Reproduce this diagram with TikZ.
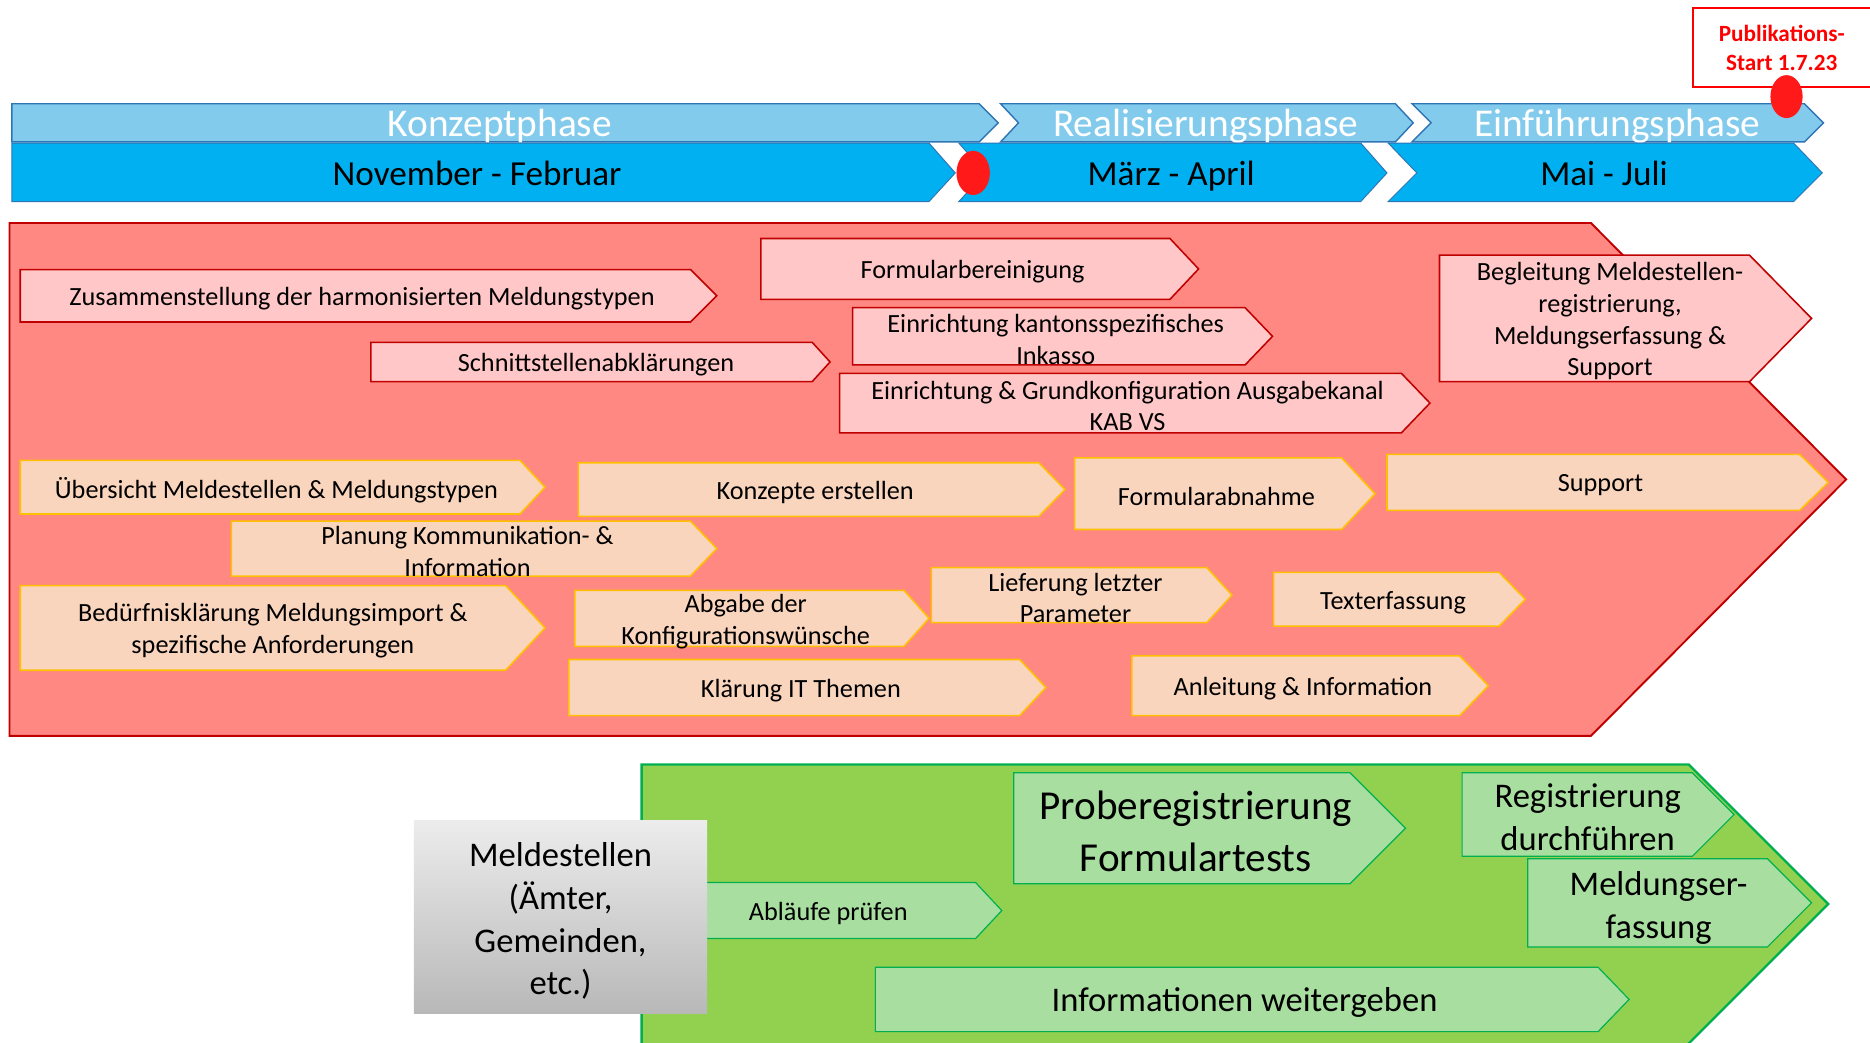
\documentclass[tikz,border=0pt]{standalone}
\usepackage{fontspec}
\setmainfont{Carlito}
\usetikzlibrary{shapes.geometric}
\definecolor{phaseblue}{RGB}{131,203,236}
\definecolor{monthblue}{RGB}{0,176,240}
\definecolor{barline}{RGB}{46,117,182}
\definecolor{redbg}{RGB}{255,136,130}
\definecolor{redline}{RGB}{192,0,0}
\definecolor{pinkbox}{RGB}{255,199,199}
\definecolor{orabox}{RGB}{250,213,190}
\definecolor{goldline}{RGB}{255,192,0}
\definecolor{greenbg}{RGB}{146,208,80}
\definecolor{greenline}{RGB}{0,176,80}
\definecolor{grbox}{RGB}{168,222,160}
\definecolor{dotred}{RGB}{255,25,25}
\definecolor{pubred}{RGB}{255,0,0}
\definecolor{greytop}{RGB}{236,236,236}
\definecolor{greybot}{RGB}{184,184,184}
\newcommand\chevbox[9]{%
  \draw[#1] (#4,#5) -- (#6,#5) -- (#8,{(#5+#7)/2}) -- (#6,#7) -- (#4,#7) -- cycle;
  \node[txt,#2] (#3) at ({(#4+(#6+#8)/2)/2},{(#5+#7)/2}) {#9};
}
\begin{document}
\begin{tikzpicture}[x=1pt,y=-1pt,
 txt/.style={align=center, inner sep=0pt, text=black, yshift=-2.5pt, font=\fontsize{22}{26.5}\selectfont},
 pinkb/.style={fill=pinkbox, draw=redline, line width=1.3pt},
 orab/.style={fill=orabox, draw=goldline, line width=1.3pt},
 grb/.style={fill=grbox, draw=greenline, line width=1pt},
 phasebar/.style={fill=phaseblue, draw=barline, line width=1.2pt},
 monthbar/.style={fill=monthblue, draw=barline, line width=0.8pt},
 phasetxt/.style={text=white, inner sep=0pt, text height=23pt, text depth=0pt, font=\fontsize{33}{40}\selectfont},
 monthtxt/.style={text=black, inner sep=0pt, text height=20.5pt, text depth=0pt, font=\fontsize{29.5}{36}\selectfont},
 bigtxt/.style={font=\fontsize{34.5}{43}\selectfont},
 midtxt/.style={font=\fontsize{29}{35.8}\selectfont},
 milestone/.style={ellipse, fill=dotred, inner sep=0pt, minimum width=28pt, minimum height=37pt}
]
\useasboundingbox (0,0) rectangle (1568,874);
\clip (0,0) rectangle (1568,874);
\fill[white] (0,0) rectangle (1568,874);

% --- phase bars
\draw[phasebar] (10,87) -- (821,87) -- (837,103) -- (821,119) -- (10,119) -- cycle;
\draw[phasebar] (839,87) -- (1170,87) -- (1185,103) -- (1170,119) -- (839,119) -- (854,103) -- cycle;
\draw[phasebar] (1184,87) -- (1513,87) -- (1529,103) -- (1513,119) -- (1184,119) -- (1200,103) -- cycle;
\node[phasetxt] (konz) at (419,103) {Konzeptphase};
\node[phasetxt] (real) at (1011,103) {Realisierungsphase};
\node[phasetxt] (einf) at (1356,103) {Einführungsphase};

% --- month bars
\draw[monthbar] (10,120) -- (779,120) -- (801,145) -- (779,169) -- (10,169) -- cycle;
\draw[monthbar] (804,120) -- (1141,120) -- (1163,145) -- (1141,169) -- (804,169) -- (826,145) -- cycle;
\draw[monthbar] (1164,120) -- (1504,120) -- (1528,145) -- (1504,169) -- (1164,169) -- (1188,145) -- cycle;
\node[monthtxt] (nov) at (400,145) {November - Februar};
\node[monthtxt] (mar) at (982,145) {März - April};
\node[monthtxt] (mai) at (1345,145) {Mai - Juli};

% --- publication milestone
\node[draw=pubred, fill=white, line width=1.5pt, minimum width=170pt, minimum height=66pt, anchor=north west] (pubbox) at (1419,6) {};
\node[align=center, text=pubred, inner sep=0pt, font=\bfseries\fontsize{19.5}{24}\selectfont] (pub) at (1494,40) {Publikations-\\Start 1.7.23};
\node[milestone] (dot1) at (816,145) {};
\node[milestone, minimum width=27pt, minimum height=36pt] (dot2) at (1498,81) {};

% --- red phase area
\draw[fill=redbg, draw=redline, line width=1.6pt] (8,187) -- (1334,187) -- (1548,402) -- (1334,617) -- (8,617) -- cycle;

\chevbox{pinkb}{}{zus}{17}{226}{579}{270}{601}{Zusammenstellung der harmonisierten Meldungstypen}
\chevbox{pinkb}{}{schn}{311}{287}{681}{320}{696}{Schnittstellenabklärungen}
\chevbox{pinkb}{}{form}{638}{200}{981}{251}{1005}{Formularbereinigung}
\chevbox{pinkb}{}{inka}{715}{258}{1044}{306}{1067}{Einrichtung kantonsspezifisches\\Inkasso}
\chevbox{pinkb}{}{ausg}{704}{313}{1175}{363}{1199}{Einrichtung \& Grundkonfiguration Ausgabekanal\\KAB VS}
\chevbox{pinkb}{}{begl}{1207}{214}{1467}{320}{1519}{Begleitung Meldestellen-\\registrierung,\\Meldungserfassung \&\\Support}

\chevbox{orab}{}{ueber}{17}{386}{436}{431}{457}{Übersicht Meldestellen \& Meldungstypen}
\chevbox{orab}{}{konzepte}{485}{388}{871}{433}{893}{Konzepte erstellen}
\chevbox{orab}{}{abnahme}{901}{384}{1125}{444}{1153}{Formularabnahme}
\chevbox{orab}{}{support}{1163}{381}{1509}{428}{1533}{Support}
\chevbox{orab}{}{planung}{194}{437}{579}{483}{601}{Planung Kommunikation- \&\\Information}
\chevbox{orab}{}{beduerf}{17}{491}{424}{562}{457}{Bedürfnisklärung Meldungsimport \&\\spezifische Anforderungen}
\chevbox{orab}{}{abgabe}{482}{495}{758}{542}{779}{Abgabe der\\Konfigurationswünsche}
\chevbox{orab}{}{liefer}{781}{476}{1012}{522}{1033}{Lieferung letzter\\Parameter}
\chevbox{orab}{}{texterf}{1068}{480}{1257}{525}{1279}{Texterfassung}
\chevbox{orab}{}{klaer}{477}{553}{855}{600}{877}{Klärung IT Themen}
\chevbox{orab}{}{anleit}{949}{550}{1224}{600}{1248}{Anleitung \& Information}

% --- green area
\draw[fill=greenbg, draw=greenline, line width=2pt] (538,641) -- (1416,641) -- (1533,758) -- (1400,891) -- (538,891) -- cycle;

\chevbox{grb}{bigtxt}{probe}{850}{648}{1132}{741}{1178.5}{Proberegistrierung\\Formulartests}
\chevbox{grb}{midtxt}{regis}{1226}{648}{1419}{718}{1454}{Registrierung\\durchführen}
\chevbox{grb}{midtxt,yshift=-2pt}{erfass}{1281}{720}{1482}{794}{1519}{Meldungser-\\fassung}
\chevbox{grb}{midtxt}{infow}{734}{811}{1340}{865}{1366}{Informationen weitergeben}
\chevbox{grb}{}{ablauf}{560}{740}{818}{787}{840}{Abläufe prüfen}

% --- Meldestellen
\shade[top color=greytop, bottom color=greybot] (347,688) rectangle (593,850);
\node[align=center, inner sep=0pt, yshift=-2.5pt, font=\fontsize{29}{35.8}\selectfont] (melde) at (470,770) {Meldestellen\\(Ämter,\\Gemeinden,\\etc.)};
\end{tikzpicture}
\end{document}
